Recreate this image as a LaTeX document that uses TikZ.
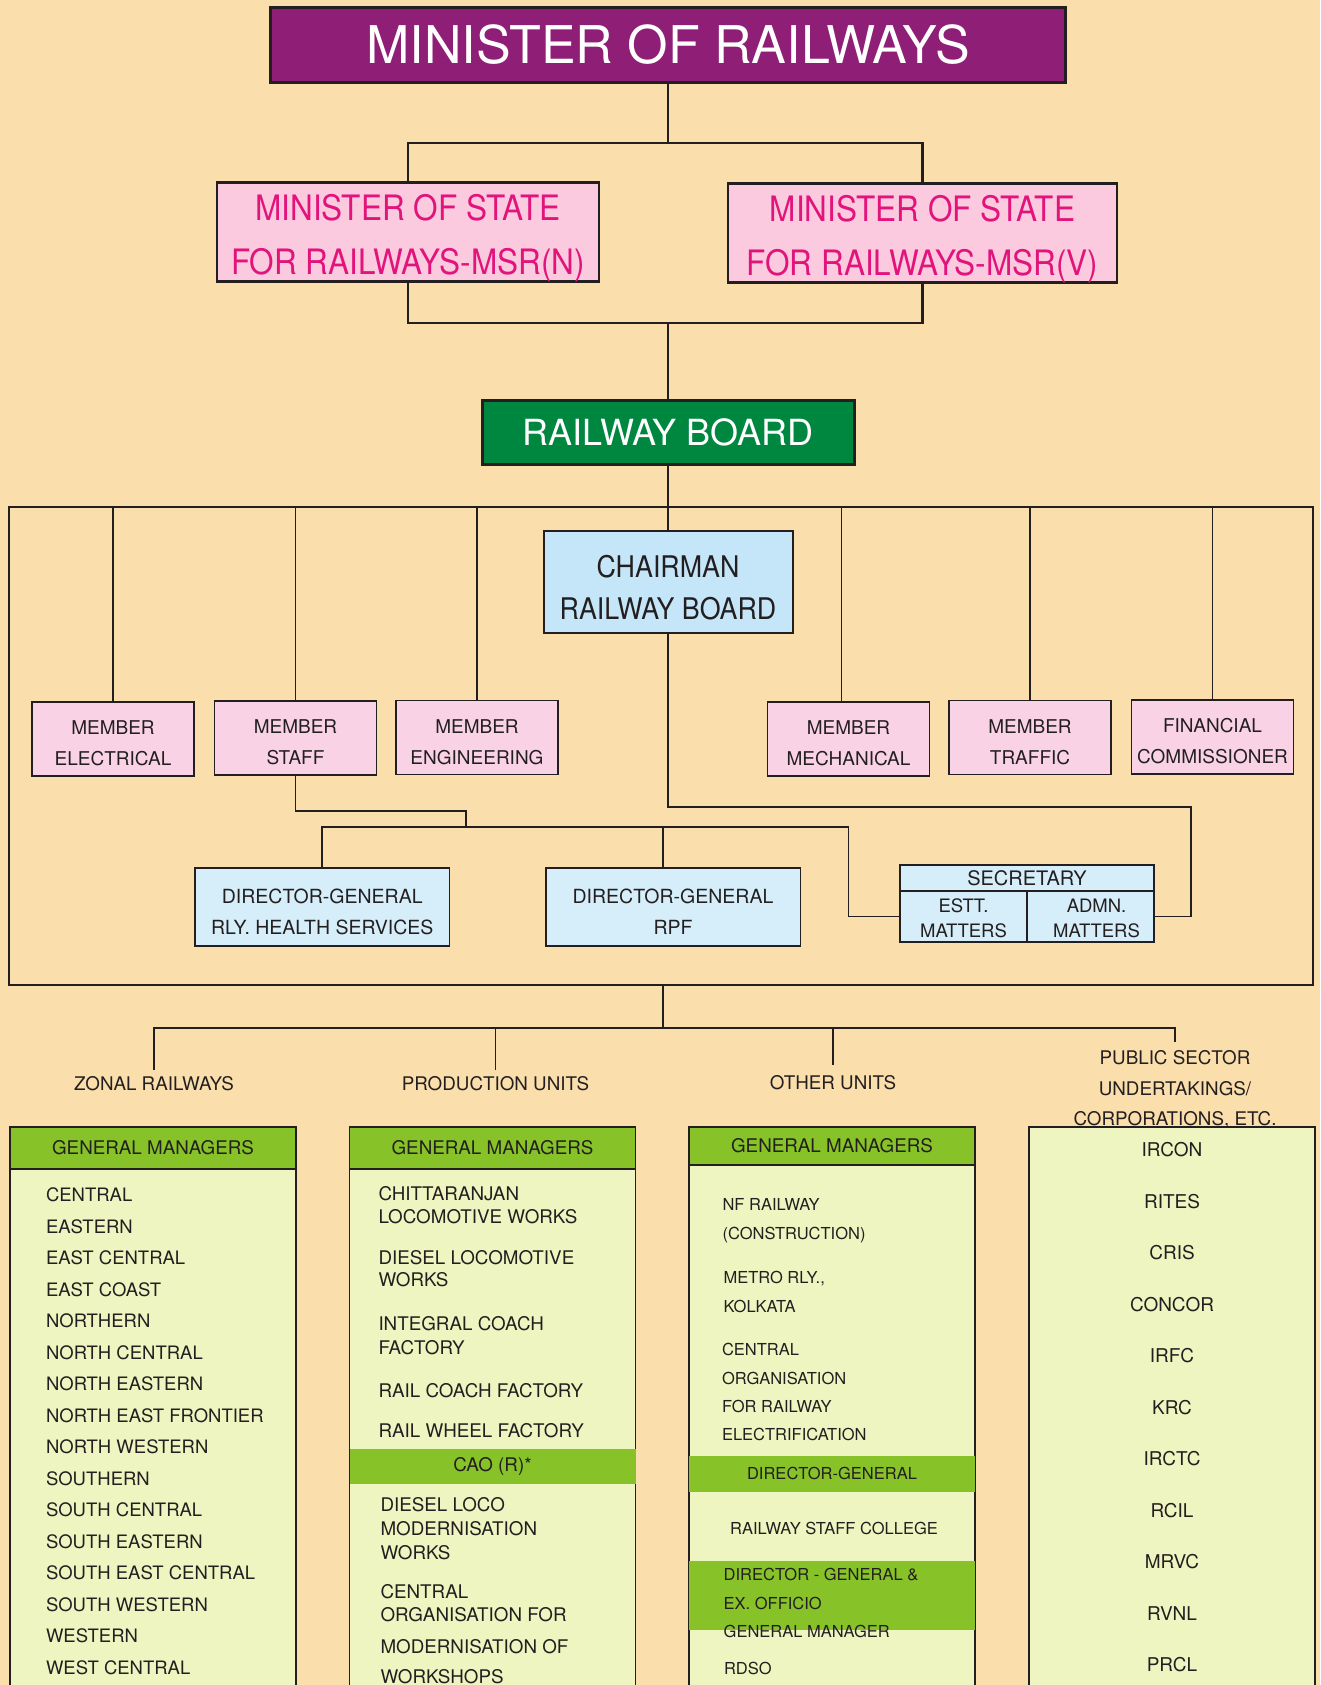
\documentclass[tikz,border=0pt]{standalone}
\usepackage{fontspec}
\setmainfont{TeX Gyre Heros}
\newfontfamily\condfont[FakeStretch=0.9]{TeX Gyre Heros}
\usetikzlibrary{positioning}

\definecolor{bgpeach}{HTML}{FADEAB}
\definecolor{inkline}{HTML}{231F20}
\definecolor{minpurple}{HTML}{8E1E76}
\definecolor{msrpink}{HTML}{FBCADF}
\definecolor{msrtext}{HTML}{E2137B}
\definecolor{boardgreen}{HTML}{00873F}
\definecolor{chairblue}{HTML}{C5E6F9}
\definecolor{memberpink}{HTML}{F9D3E5}
\definecolor{dgblue}{HTML}{D6EEF9}
\definecolor{gmgreen}{HTML}{86C228}
\definecolor{listcream}{HTML}{EEF5C0}

\newcommand{\fsize}[2]{\fontsize{#1}{#2}\selectfont}

\begin{document}
\begin{tikzpicture}[
  x=1pt, y=-1pt,
  every node/.style={inner sep=0pt, outer sep=0pt, text=inkline},
  box/.style={draw=inkline, align=center},
  topbox/.style={box, line width=3pt, fill=minpurple, text=white, font=\fsize{52}{60}},
  msrbox/.style={box, line width=2.8pt, fill=msrpink, text=msrtext, minimum height=99pt,
                 text height=86pt, text depth=0pt, font=\condfont\fsize{35}{54}},
  boardbox/.style={box, line width=3pt, fill=boardgreen, text=white, font=\fsize{36}{40}},
  chairbox/.style={box, line width=2pt, fill=chairblue, text height=74pt, text depth=0pt,
                   font=\condfont\fsize{29.8}{41.5}},
  member/.style={box, line width=1.8pt, fill=memberpink, minimum width=162pt, minimum height=74pt,
                 text height=53pt, text depth=0pt, font=\fsize{19}{31}},
  dgbox/.style={box, line width=1.5pt, fill=dgblue, minimum width=254.5pt, minimum height=78pt,
                text height=54pt, text depth=0pt, font=\fsize{19.5}{31}},
  sechead/.style={box, line width=1.5pt, fill=dgblue, font=\fsize{20}{23}},
  seccell/.style={box, line width=1.5pt, fill=dgblue, minimum width=127pt, minimum height=51pt,
                  text height=41pt, text depth=0pt, font=\fsize{18.5}{25}},
  heavy/.style={draw=inkline, line width=2.5pt},
  conn/.style={draw=inkline, line width=1.6pt},
  rail/.style={draw=inkline, line width=1.3pt},
  unitlabel/.style={align=center, outer sep=7pt, font=\fsize{18.8}{30.5}},
  gmhead/.style={draw=inkline, line width=1.6pt, fill=gmgreen, minimum width=286pt, anchor=north west,
                 font=\fsize{18.8}{23}},
  listbody/.style={draw=inkline, line width=1.6pt, fill=listcream, minimum width=286pt,
                   minimum height=600pt, anchor=north west},
  band/.style={fill=gmgreen, minimum width=286pt, anchor=north west},
  zitem/.style={anchor=base west, font=\fsize{18.5}{23}},
  zrow/.style={below=31.5pt of #1.base west, zitem},
  pitem/.style={anchor=base west, font=\fsize{18.8}{23}},
  oitem/.style={anchor=base west, font=\fsize{16.5}{28.5}},
  psuitem/.style={anchor=base, font=\fsize{19}{23}},
  psurow/.style={below=51.5pt of #1.base, psuitem}
]
\useasboundingbox (0,0) rectangle (1320,1685);
\clip (0,0) rectangle (1320,1685);
\fill[bgpeach] (0,0) rectangle (1320,1685);

% ===== Top: minister, ministers of state, board =====
\node[topbox, minimum width=795pt, minimum height=75pt] (minister) at (668,45) {MINISTER OF RAILWAYS};
\node[msrbox, minimum width=382pt] (msrN) at (408,232) {MINISTER OF STATE\\FOR RAILWAYS-MSR(N)};
\node[msrbox, minimum width=389pt] (msrV) at (922.5,233) {MINISTER OF STATE\\FOR RAILWAYS-MSR(V)};
\node[boardbox, minimum width=372pt, minimum height=64pt] (board) at (668,432) {RAILWAY BOARD};
\coordinate (splitTop) at (668,143);
\coordinate (joinLow) at (668,323);

\draw[heavy] (minister.south) -- (splitTop);
\draw[heavy] (msrN.north) |- (splitTop) -| (msrV.north);
\draw[heavy] (msrN.south) |- (joinLow) -| (msrV.south);
\draw[heavy] (joinLow) -- (board.north);

% ===== Board frame: chairman and members =====
\node[draw=inkline, line width=1.3pt, minimum width=1304pt, minimum height=478pt] (rbFrame) at (661,746) {};
\node[chairbox, minimum width=249pt, minimum height=102pt] (chair) at (668,582) {CHAIRMAN\\RAILWAY BOARD};
\draw[conn] (board.south) -- (chair.north);

\node[member] (memElec)    at (113,739)    {MEMBER\\ELECTRICAL};
\node[member] (memStaff)   at (295.5,738)  {MEMBER\\STAFF};
\node[member] (memEng)     at (477,737.5)  {MEMBER\\ENGINEERING};
\node[member] (memMech)    at (848.5,739)  {MEMBER\\MECHANICAL};
\node[member] (memTraffic) at (1030,737.5) {MEMBER\\TRAFFIC};
\node[member] (memFin)     at (1212.5,737) {FINANCIAL\\COMMISSIONER};

\draw[rail] (memElec.north) -- (memElec.north |- rbFrame.north);
\draw[rail] (memStaff.north) -- (memStaff.north |- rbFrame.north);
\draw[rail] (memEng.north) -- (memEng.north |- rbFrame.north);
\draw[rail] ([xshift=-7pt]memMech.north) -- ([xshift=-7pt]memMech.north |- rbFrame.north);
\draw[rail] (memTraffic.north) -- (memTraffic.north |- rbFrame.north);
\draw[rail] (memFin.north) -- (memFin.north |- rbFrame.north);

% ----- Directors-general and secretary -----
\node[dgbox] (dgHealth) at (322.25,907) {DIRECTOR-GENERAL\\RLY. HEALTH SERVICES};
\node[dgbox] (dgRpf)    at (673,907)    {DIRECTOR-GENERAL\\RPF};
\node[sechead, minimum width=254pt, minimum height=26pt] (secHead) at (1027,878) {SECRETARY};
\node[seccell] (secEstt) at (963.5,916.5) {ESTT.\\MATTERS};
\node[seccell] (secAdmn) at (1090.5,916.5) {\hspace*{12pt}ADMN.\\\hspace*{12pt}MATTERS};

\coordinate (secCorner) at (1191,807);
\coordinate (staffKnee) at (466,811);
\coordinate (dgBus) at (848.5,827);

\draw[conn] (chair.south) |- (secCorner) |- (secAdmn.east);
\draw[conn] (memStaff.south) |- (staffKnee) -- (staffKnee |- dgBus);
\draw[conn] (dgHealth.north) |- (dgBus) |- (secEstt.west);
\draw[conn] ([xshift=-10pt]dgRpf.north) -- ([xshift=-10pt]dgRpf.north |- dgBus);

% ===== Bottom: unit groups =====
\coordinate (hub) at (663,1028);
\node[unitlabel] (zonalLbl) at (154,1084) {ZONAL RAILWAYS};
\node[unitlabel] (prodLbl) at (495.5,1084) {PRODUCTION UNITS};
\node[unitlabel, outer sep=11pt] (otherLbl) at (833,1083) {OTHER UNITS};
\node[unitlabel, outer sep=9pt] (psuLbl) at (1175,1089.5) {PUBLIC SECTOR\\UNDERTAKINGS/\\CORPORATIONS, ETC.};

\draw[conn] (rbFrame.south -| hub) -- (hub);
\draw[conn] (zonalLbl.north) |- (hub) -| (psuLbl.north);
\draw[conn] (prodLbl.north) -- (prodLbl.north |- hub);
\draw[conn] (otherLbl.north) -- (otherLbl.north |- hub);

% ----- Zonal railways -----
\node[listbody] (zonalBody) at (10,1127) {};
\node[gmhead, minimum height=42pt] (zonalHead) at (zonalBody.north west) {GENERAL MANAGERS};
\node[zitem] (z1) at (46,1201.7) {CENTRAL};
\node[zrow=z1] (z2) {EASTERN};
\node[zrow=z2] (z3) {EAST CENTRAL};
\node[zrow=z3] (z4) {EAST COAST};
\node[zrow=z4] (z5) {NORTHERN};
\node[zrow=z5] (z6) {NORTH CENTRAL};
\node[zrow=z6] (z7) {NORTH EASTERN};
\node[zrow=z7] (z8) {NORTH EAST FRONTIER};
\node[zrow=z8] (z9) {NORTH WESTERN};
\node[zrow=z9] (z10) {SOUTHERN};
\node[zrow=z10] (z11) {SOUTH CENTRAL};
\node[zrow=z11] (z12) {SOUTH EASTERN};
\node[zrow=z12] (z13) {SOUTH EAST CENTRAL};
\node[zrow=z13] (z14) {SOUTH WESTERN};
\node[zrow=z14] (z15) {WESTERN};
\node[zrow=z15] (z16) {WEST CENTRAL};

% ----- Production units -----
\node[listbody] (prodBody) at (349.5,1127) {};
\node[gmhead, minimum height=42pt] (prodHead) at (prodBody.north west) {GENERAL MANAGERS};
\node[pitem] (pr1) at (378.5,1200.8) {CHITTARANJAN};
\node[below=23pt of pr1.base west, pitem] (pr2) {LOCOMOTIVE WORKS};
\node[pitem] (pr3) at (378.5,1264.8) {DIESEL LOCOMOTIVE};
\node[below=22pt of pr3.base west, pitem] (pr4) {WORKS};
\node[pitem] (pr5) at (378.5,1330.8) {INTEGRAL COACH};
\node[below=24pt of pr5.base west, pitem] (pr6) {FACTORY};
\node[pitem] (pr7) at (378.5,1397.8) {RAIL COACH FACTORY};
\node[pitem] (pr8) at (378.5,1437.8) {RAIL WHEEL FACTORY};
\node[band, minimum height=35pt, font=\fsize{18.8}{23}] (caoBand) at (349.5,1449) {CAO (R)*};
\node[pitem] (pr9) at (380.5,1511.4) {DIESEL LOCO};
\node[below=24pt of pr9.base west, pitem] (pr10) {MODERNISATION};
\node[below=24pt of pr10.base west, pitem] (pr11) {WORKS};
\node[pitem] (pr12) at (380.5,1598.8) {CENTRAL};
\node[below=23pt of pr12.base west, pitem] (pr13) {ORGANISATION FOR};
\node[below=31.6pt of pr13.base west, pitem] (pr14) {MODERNISATION OF};
\node[below=30.4pt of pr14.base west, pitem] (pr15) {WORKSHOPS};

% ----- Other units -----
\node[listbody] (otherBody) at (689,1127) {};
\node[gmhead, minimum height=38pt] (otherHead) at (otherBody.north west) {GENERAL MANAGERS};
\node[oitem] (ou1) at (722.5,1210.9) {NF RAILWAY};
\node[below=29pt of ou1.base west, oitem] (ou2) {(CONSTRUCTION)};
\node[oitem] (ou3) at (723.5,1283.9) {METRO RLY.,};
\node[below=29pt of ou3.base west, oitem] (ou4) {KOLKATA};
\node[oitem] (ou5) at (722,1355.9) {CENTRAL};
\node[below=28.3pt of ou5.base west, oitem] (ou6) {ORGANISATION};
\node[below=28.3pt of ou6.base west, oitem] (ou7) {FOR RAILWAY};
\node[below=28.3pt of ou7.base west, oitem] (ou8) {ELECTRIFICATION};
\node[band, minimum height=36pt, font=\fsize{16.5}{23}] (dgBandA) at (689,1455.6) {DIRECTOR-GENERAL};
\node[oitem, anchor=base] (ou9) at (834,1534.5) {RAILWAY STAFF COLLEGE};
\node[band, minimum height=69pt] (dgBandB) at (689,1561) {};
\node[oitem] (ou10) at (723.7,1580.9) {DIRECTOR - GENERAL \&};
\node[below=28.5pt of ou10.base west, oitem] (ou11) {EX. OFFICIO};
\node[below=28.5pt of ou11.base west, oitem] (ou12) {GENERAL MANAGER};
\node[oitem] (ou13) at (724,1674.9) {RDSO};

% ----- Public sector undertakings -----
\node[listbody] (psuBody) at (1029,1127) {};
\node[psuitem] (ps1) at (1172,1156.8) {IRCON};
\node[psurow=ps1] (ps2) {RITES};
\node[psurow=ps2] (ps3) {CRIS};
\node[psurow=ps3] (ps4) {CONCOR};
\node[psurow=ps4] (ps5) {IRFC};
\node[psurow=ps5] (ps6) {KRC};
\node[psurow=ps6] (ps7) {IRCTC};
\node[psurow=ps7] (ps8) {RCIL};
\node[psurow=ps8] (ps9) {MRVC};
\node[psurow=ps9] (ps10) {RVNL};
\node[psurow=ps10] (ps11) {PRCL};
\end{tikzpicture}
\end{document}
